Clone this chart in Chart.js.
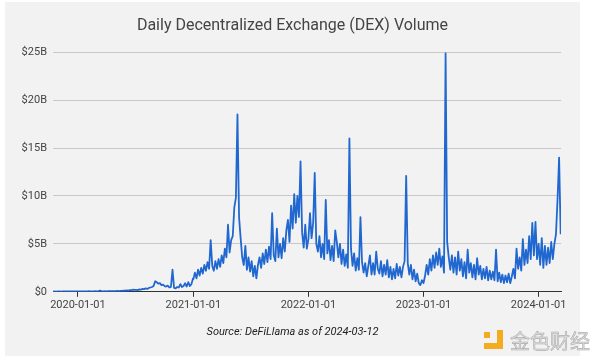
<!DOCTYPE html>
<html lang="en">

<head>
    <meta charset="UTF-8">
    <title>Daily DEX Volume</title>
    <script src="https://cdn.jsdelivr.net/npm/chart.js"></script>
    <style>
        body {
            margin: 0;
            padding: 0;
            background: #ffffff;
            width: 600px;
            height: 364px;
            overflow: hidden;
            position: relative;
            font-family: Roboto, Arial, sans-serif;
        }

        #panel {
            position: absolute;
            left: 5px;
            top: 2px;
            width: 575px;
            height: 354px;
            background: #f2f2f2;
        }

        #mark {
            position: absolute;
            left: 484px;
            top: 330px;
            width: 110px;
            height: 22px;
        }

        .dot { position: absolute; background: #f2ac1e; }

        #mark span {
            position: absolute;
            left: 26px;
            top: -4px;
            font-family: "Noto Sans CJK SC", sans-serif;
            font-size: 20px;
            letter-spacing: 0px;
            color: #dedede;
            -webkit-text-stroke: 0.6px #aeaeae;
        }
    </style>
</head>

<body>
    <div id="panel"><canvas id="dexChart" width="575" height="354"></canvas></div>
    <div id="mark">
        <div class="dot" style="left:0;top:2px;width:6px;height:6px"></div>
        <div class="dot" style="left:13px;top:0;width:6px;height:19px"></div>
        <div class="dot" style="left:0;top:13px;width:19px;height:6px"></div>
        <span>金色财经</span>
    </div>

    <script>
        // daily DEX volume in $B, one reading every 5 days from each start day
        // (day 0 = 2020-01-01)
        const stepDays = 5;
        const start2019 = -79; // 2019-10-14
        const vol2019 = [0.02, 0.03, 0.02, 0.03, 0.03, 0.02, 0.04, 0.03, 0.03, 0.04, 0.03, 0.04, 0.03, 0.04, 0.04, 0.03];
        const start2020 = 0;
        const vol2020 = [
            0.03, 0.04, 0.03, 0.05, 0.04, 0.05, 0.04, 0.06, 0.05, 0.04,
            0.05, 0.06, 0.05, 0.07, 0.12, 0.06, 0.05, 0.06, 0.05, 0.07,
            0.06, 0.07, 0.06, 0.08, 0.07, 0.09, 0.08, 0.10, 0.09, 0.12,
            0.11, 0.15, 0.13, 0.18, 0.16, 0.22, 0.20, 0.20, 0.18, 0.25,
            0.22, 0.30, 0.28, 0.35, 0.30, 0.40, 0.45, 0.50, 0.60, 1.10,
            1.00, 0.85, 0.90, 0.70, 0.75, 0.60, 0.55, 0.65, 0.45, 0.50,
            2.30, 0.40, 0.35, 0.50, 0.45, 0.80, 0.50, 0.60, 0.90, 0.55,
            1.00, 0.60, 0.80, 1.40
        ];
        const start2021 = 366;
        const vol2021 = [
            1.3, 2.0, 1.4, 2.3, 1.7, 2.5, 1.9, 2.8, 2.2, 3.1,
            2.4, 5.4, 2.7, 2.2, 3.2, 2.4, 3.4, 2.6, 3.8, 3.0,
            4.5, 3.6, 7.0, 4.1, 5.4, 5.8, 8.8, 9.8, 18.5, 7.8,
            5.6, 3.6, 2.8, 4.8, 2.3, 3.6, 2.1, 3.2, 1.6, 2.7,
            1.4, 2.8, 3.6, 2.5, 4.0, 2.9, 4.4, 3.1, 4.7, 3.4,
            8.2, 3.8, 3.2, 6.6, 3.6, 5.0, 3.5, 5.6, 4.2, 6.4,
            7.5, 5.2, 9.0, 6.6, 10.2, 7.2, 10.0, 7.8, 13.6, 6.2,
            4.6, 7.0, 4.5
        ];
        const start2022 = 731;
        const vol2022 = [
            5.5, 8.2, 5.6, 7.2, 12.4, 5.0, 4.2, 5.8, 3.6, 5.0,
            3.4, 9.6, 4.0, 5.4, 3.3, 4.8, 3.2, 6.4, 5.2, 3.6,
            5.0, 2.9, 4.4, 2.7, 3.9, 2.5, 16.0, 4.5, 2.7, 4.0,
            2.2, 3.5, 2.3, 7.8, 3.1, 2.0, 3.0, 1.6, 2.7, 3.8,
            1.8, 3.0, 1.8, 4.2, 2.4, 1.9, 3.2, 1.6, 2.8, 1.8,
            3.3, 1.5, 2.6, 1.3, 2.4, 1.4, 2.9, 1.7, 2.6, 1.5,
            2.6, 3.2, 12.1, 3.0, 1.8, 2.8, 1.3, 2.3, 1.1, 1.9,
            0.9, 0.7, 1.2
        ];
        const start2023 = 1096;
        const vol2023 = [
            0.9, 1.7, 2.8, 1.8, 3.4, 2.2, 3.8, 2.5, 4.1, 2.8,
            4.5, 2.6, 3.7, 2.0, 24.9, 5.2, 3.6, 2.3, 3.8, 2.0,
            3.6, 1.8, 4.2, 2.2, 3.4, 1.6, 3.1, 1.4, 4.4, 2.0,
            3.0, 1.5, 2.8, 1.3, 3.5, 1.8, 2.7, 1.3, 2.4, 1.4,
            2.6, 1.2, 2.2, 1.3, 2.1, 1.2, 4.4, 1.1, 2.0, 1.0,
            1.8, 0.9, 1.7, 1.0, 1.9, 0.9, 1.6, 2.4, 1.4, 4.5,
            2.4, 3.6, 2.2, 5.5, 2.8, 4.4, 3.0, 5.8, 3.4, 7.2,
            3.8, 7.3, 3.4
        ];
        const start2024 = 1461;
        const vol2024 = [5.0, 2.8, 5.6, 2.5, 4.8, 2.8, 4.6, 3.0, 5.2, 3.4, 5.0, 6.0, 9.6, 14.0, 6.0];

        const yearTicks = [0, 366, 731, 1096, 1461];
        const tickLabels = ['2020-01-01', '2021-01-01', '2022-01-01', '2023-01-01', '2024-01-01'];

        const series = [
            [start2019, vol2019], [start2020, vol2020], [start2021, vol2021],
            [start2022, vol2022], [start2023, vol2023], [start2024, vol2024]
        ];
        const points = [];
        series.forEach(([s, vals]) => vals.forEach((v, i) => points.push({ x: s + i * stepDays, y: v })));

        Chart.defaults.font.family = 'Roboto, Arial, sans-serif';
        Chart.defaults.color = '#444';

        new Chart(document.getElementById('dexChart'), {
            type: 'line',
            data: {
                datasets: [{
                    data: points,
                    borderColor: '#2167d0',
                    borderWidth: 1.8,
                    borderJoinStyle: 'round',
                    pointRadius: 0,
                    tension: 0,
                    fill: false
                }]
            },
            options: {
                responsive: false,
                animation: false,
                plugins: {
                    legend: { display: false },
                    tooltip: { enabled: false },
                    title: {
                        display: true,
                        text: 'Daily Decentralized Exchange (DEX) Volume',
                        color: '#444',
                        font: { size: 16, weight: 'normal' },
                        padding: { top: 14, bottom: 17 }
                    },
                    subtitle: {
                        display: true,
                        position: 'bottom',
                        text: 'Source: DeFiLlama as of 2024-03-12',
                        color: '#222',
                        font: { size: 11, style: 'italic' },
                        padding: { top: 0, bottom: 17 }
                    }
                },
                scales: {
                    x: {
                        type: 'linear',
                        min: -79,
                        max: 1532,
                        afterBuildTicks: s => { s.ticks = yearTicks.map(v => ({ value: v })); },
                        afterFit: s => { s.height = 34; },
                        ticks: {
                            autoSkip: false,
                            maxRotation: 0,
                            padding: 2,
                            color: '#444',
                            font: { size: 11 },
                            callback: v => tickLabels[yearTicks.indexOf(v)]
                        },
                        grid: { drawOnChartArea: false, tickLength: 5, color: '#333' },
                        border: { color: '#333', width: 1 }
                    },
                    y: {
                        min: 0,
                        max: 25,
                        afterFit: s => { s.width = 48; },
                        ticks: {
                            stepSize: 5,
                            padding: 6,
                            color: '#444',
                            font: { size: 11 },
                            callback: v => v === 0 ? '$0' : '$' + v + 'B'
                        },
                        grid: { color: '#c8c8c8', drawTicks: false },
                        border: { display: false }
                    },
                    // empty right-hand axis: keeps a margin without shifting the title
                    yRight: {
                        position: 'right',
                        afterFit: s => { s.width = 19; },
                        ticks: { display: false },
                        grid: { display: false },
                        border: { display: false }
                    }
                }
            }
        });
    </script>
</body>

</html>
